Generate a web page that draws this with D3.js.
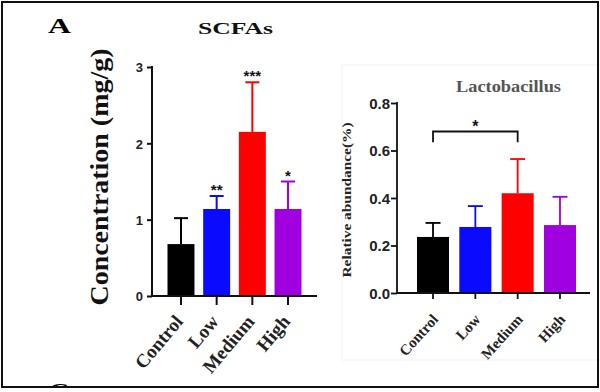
<!DOCTYPE html>
<html>
<head>
<meta charset="utf-8">
<script src="https://cdn.jsdelivr.net/npm/d3@7/dist/d3.min.js"></script>
<style>
  html,body{margin:0;padding:0;background:#fff;}
  svg{display:block;}
</style>
</head>
<body>
<script>
// ---------- data ----------
const categories = ["Control", "Low", "Medium", "High"];
const barColors = ["#000000", "#0a0aff", "#ff0000", "#a000e0"];

// Panel A left: SCFAs concentration (mg/g)
const scfaMeans = [0.68, 1.14, 2.15, 1.14];
const scfaErrors = [0.34, 0.17, 0.65, 0.36];
const scfaStars = ["", "**", "***", "*"];
const scfaTicks = [0, 1, 2, 3];

// Panel right: Lactobacillus relative abundance (%)
const lactoMeans = [0.236, 0.278, 0.42, 0.286];
const lactoErrors = [0.059, 0.088, 0.144, 0.119];
const lactoTicks = [0.0, 0.2, 0.4, 0.6, 0.8];
const lactoBracket = { from: "Control", to: "Medium", label: "*" };

const W = 600, H = 392;
const svg = d3.select("body").append("svg").attr("width", W).attr("height", H);

const serif = "'Liberation Serif','Times New Roman',serif";
const sans = "'Liberation Sans',Arial,sans-serif";

// clip for the bottom partial letter
svg.append("clipPath").attr("id", "frameClip")
  .append("rect").attr("x", 0).attr("y", 0).attr("width", W).attr("height", 387);

// faint border of the pasted right panel
svg.append("rect").attr("x", 342).attr("y", 65).attr("width", 270).attr("height", 295)
  .attr("fill", "none").attr("stroke", "#f1f1f1").attr("stroke-width", 1);

// ---------- panel letters ----------
svg.append("text").attr("x", 48).attr("y", 33).attr("font-family", serif).attr("font-weight", "bold")
  .attr("font-size", 20).attr("textLength", 23).attr("lengthAdjust", "spacingAndGlyphs").text("A");
svg.append("g").attr("clip-path", "url(#frameClip)")
  .append("text").attr("x", 49).attr("y", 398).attr("font-family", serif).attr("font-weight", "bold")
  .attr("font-size", 22).attr("textLength", 20).attr("lengthAdjust", "spacingAndGlyphs").text("C");

// ---------- generic bar chart ----------
function drawChart(cfg) {
  const g = svg.append("g");
  const x = d3.scaleBand().domain(categories).range(cfg.xRange).paddingInner(cfg.pad).paddingOuter(0);
  const y = d3.scaleLinear().domain(cfg.yDomain).range(cfg.yRange);
  const bw = x.bandwidth();
  const data = categories.map((c, i) => ({ c, m: cfg.means[i], e: cfg.errors[i], col: barColors[i], s: cfg.stars ? cfg.stars[i] : "" }));

  // error bars (upper only)
  const eg = g.append("g");
  data.forEach(d => {
    const cx = x(d.c) + bw / 2;
    eg.append("line").attr("x1", cx).attr("x2", cx).attr("y1", y(d.m)).attr("y2", y(d.m + d.e))
      .attr("stroke", d.col).attr("stroke-width", cfg.errW);
    eg.append("line").attr("x1", cx - cfg.cap / 2).attr("x2", cx + cfg.cap / 2).attr("y1", y(d.m + d.e)).attr("y2", y(d.m + d.e))
      .attr("stroke", d.col).attr("stroke-width", cfg.errW);
  });
  // bars
  g.selectAll("rect.bar").data(data).enter().append("rect").attr("class", "bar")
    .attr("x", d => x(d.c)).attr("width", bw)
    .attr("y", d => y(d.m)).attr("height", d => y(0) - y(d.m))
    .attr("fill", d => d.col);

  // y axis
  const ya = g.append("g").attr("transform", `translate(${cfg.axisX},0)`)
    .call(d3.axisLeft(y).tickValues(cfg.ticks).tickSize(cfg.yTick).tickPadding(cfg.yPad).tickFormat(cfg.fmt));
  ya.select(".domain").remove();
  ya.selectAll(".tick line").attr("stroke", "#111").attr("stroke-width", cfg.axW);
  ya.selectAll(".tick text").attr("font-family", sans).attr("font-weight", "bold")
    .attr("font-size", cfg.tickFont).attr("fill", "#222").attr("dy", "0.36em");
  g.append("line").attr("x1", cfg.axisX).attr("x2", cfg.axisX).attr("y1", y(cfg.yDomain[1]) - 1).attr("y2", y(0))
    .attr("stroke", "#111").attr("stroke-width", cfg.axW);
  // x axis line
  g.append("line").attr("x1", cfg.axisX).attr("x2", cfg.xEnd).attr("y1", y(0)).attr("y2", y(0))
    .attr("stroke", "#111").attr("stroke-width", cfg.axW);
  // x ticks
  data.forEach(d => {
    const cx = x(d.c) + bw / 2;
    g.append("line").attr("x1", cx).attr("x2", cx).attr("y1", y(0)).attr("y2", y(0) + cfg.xTick)
      .attr("stroke", "#111").attr("stroke-width", cfg.axW);
    g.append("text").attr("font-family", serif).attr("font-weight", "bold").attr("font-size", cfg.xFont)
      .attr("fill", "#222").attr("text-anchor", "end")
      .attr("transform", `translate(${cx + cfg.xLabDx},${y(0) + cfg.xLabDy}) rotate(${cfg.xRot})`)
      .text(d.c);
  });
  // stars
  data.forEach(d => {
    if (!d.s) return;
    const cx = x(d.c) + bw / 2;
    g.append("text").attr("x", cx).attr("y", y(d.m + d.e) - cfg.starGap).attr("text-anchor", "middle")
      .attr("font-family", sans).attr("font-weight", "bold").attr("font-size", cfg.starFont).attr("fill", "#111")
      .text(d.s);
  });
  return { g, x, y, bw };
}

// ---------- left chart ----------
const left = drawChart({
  xRange: [167.5, 301.5], pad: 0.244, yDomain: [0, 3], yRange: [296, 67],
  means: scfaMeans, errors: scfaErrors, stars: scfaStars, ticks: scfaTicks, fmt: d3.format("d"),
  axisX: 152, xEnd: 317, axW: 2, errW: 2, cap: 14, yTick: 5, yPad: 4, tickFont: 13,
  xTick: 9, xFont: 19, xRot: -50, xLabDx: 3, xLabDy: 26, starGap: 1, starFont: 15
});
svg.append("text").attr("x", 235.5).attr("y", 34).attr("text-anchor", "middle").attr("font-family", serif)
  .attr("font-weight", "bold").attr("font-size", 17).attr("textLength", 75).attr("lengthAdjust", "spacingAndGlyphs")
  .attr("fill", "#111").text("SCFAs");
svg.append("text").attr("transform", "translate(108,177) rotate(-90)").attr("text-anchor", "middle")
  .attr("font-family", serif).attr("font-weight", "bold").attr("font-size", 26)
  .attr("textLength", 257).attr("lengthAdjust", "spacingAndGlyphs").attr("fill", "#111")
  .text("Concentration (mg/g)");

// ---------- right chart ----------
const right = drawChart({
  xRange: [417, 576], pad: 0.243, yDomain: [0, 0.8], yRange: [293, 103],
  means: lactoMeans, errors: lactoErrors, stars: null, ticks: lactoTicks, fmt: d3.format(".1f"),
  axisX: 397, xEnd: 590, axW: 1.8, errW: 1.8, cap: 15, yTick: 6, yPad: 1, tickFont: 15,
  xTick: 6, xFont: 15, xRot: -48, xLabDx: 6, xLabDy: 27, starGap: 0, starFont: 14
});
svg.append("text").attr("x", 508.5).attr("y", 92).attr("text-anchor", "middle").attr("font-family", serif)
  .attr("font-weight", "bold").attr("font-size", 17).attr("textLength", 105).attr("lengthAdjust", "spacingAndGlyphs")
  .attr("fill", "#555").text("Lactobacillus");
svg.append("text").attr("transform", "translate(351,200) rotate(-90)").attr("text-anchor", "middle")
  .attr("font-family", serif).attr("font-weight", "bold").attr("font-size", 12)
  .attr("textLength", 155).attr("lengthAdjust", "spacingAndGlyphs").attr("fill", "#222")
  .text("Relative abundance(%)");

// significance bracket
{
  const bx1 = right.x(lactoBracket.from) + right.bw / 2;
  const bx2 = right.x(lactoBracket.to) + right.bw / 2;
  const by = right.y(0.68);
  const leg = right.y(0.635);
  svg.append("path").attr("d", `M${bx1},${leg}V${by}H${bx2}V${leg}`).attr("fill", "none")
    .attr("stroke", "#111").attr("stroke-width", 1.8);
  svg.append("text").attr("x", (bx1 + bx2) / 2).attr("y", by - 0).attr("text-anchor", "middle")
    .attr("font-family", sans).attr("font-weight", "bold").attr("font-size", 16).attr("fill", "#111")
    .text(lactoBracket.label);
}

// ---------- outer frame ----------
svg.append("rect").attr("x", 2).attr("y", 2).attr("width", 596).attr("height", 385)
  .attr("fill", "none").attr("stroke", "#111").attr("stroke-width", 2);
</script>
</body>
</html>
